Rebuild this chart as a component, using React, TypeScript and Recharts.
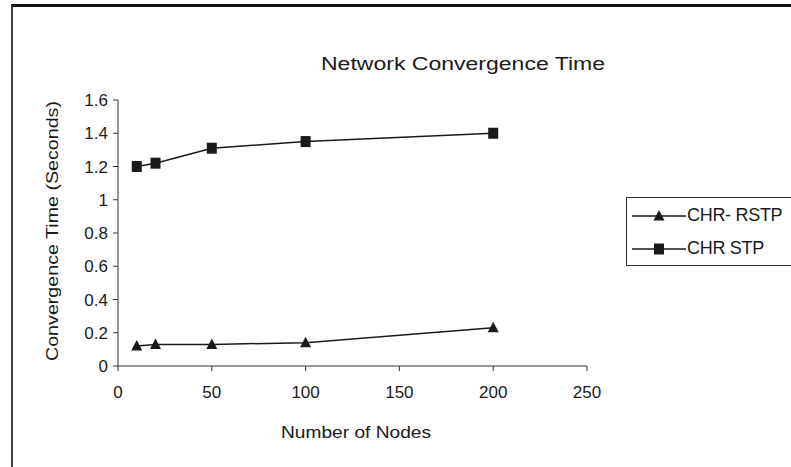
import { CartesianGrid, Customized, Legend, Line, LineChart, XAxis, YAxis } from "recharts";

const nodes = [10, 20, 50, 100, 200];
const rstp = [0.12, 0.13, 0.13, 0.14, 0.23];
const stp = [1.2, 1.22, 1.31, 1.35, 1.4];
const xTicks = [0, 50, 100, 150, 200, 250];
const yTicks = [0, 0.2, 0.4, 0.6, 0.8, 1, 1.2, 1.4, 1.6];
const seriesKeys = ["rstp", "stp"];
const seriesNames = ["CHR- RSTP", "CHR STP"];

const data = nodes.map((n, i) => ({ nodes: n, rstp: rstp[i], stp: stp[i] }));

const FONT = "'Liberation Sans', Arial, sans-serif";
const INK = "#1a1a1a";

function Triangle({ cx, cy }: any) {
  if (cx == null || cy == null) return null;
  return <polygon points={`${cx},${cy - 6} ${cx - 5.5},${cy + 4.5} ${cx + 5.5},${cy + 4.5}`} fill={INK} />;
}

function Square({ cx, cy }: any) {
  if (cx == null || cy == null) return null;
  return <rect x={cx - 5} y={cy - 5.5} width={10} height={11} fill={INK} />;
}

function Texts() {
  return (
    <g fontFamily={FONT} fill={INK}>
      <text x={321} y={70} fontSize={18} textLength={284} lengthAdjust="spacingAndGlyphs">
        Network Convergence Time
      </text>
      <text
        x={0}
        y={0}
        fontSize={17}
        textAnchor="middle"
        dominantBaseline="central"
        textLength={260}
        lengthAdjust="spacingAndGlyphs"
        transform="translate(52,231) rotate(-90)"
      >
        Convergence Time (Seconds)
      </text>
      <text
        x={356}
        y={432}
        fontSize={17}
        textAnchor="middle"
        dominantBaseline="central"
        textLength={150}
        lengthAdjust="spacingAndGlyphs"
      >
        Number of Nodes
      </text>
    </g>
  );
}

function LegendBox({ payload }: any) {
  const items = [...(payload || [])].sort(
    (a: any, b: any) => seriesKeys.indexOf(a.dataKey) - seriesKeys.indexOf(b.dataKey)
  );
  return (
    <div
      style={{
        border: "1.5px solid #333",
        width: 200,
        height: 69,
        boxSizing: "border-box",
        fontFamily: FONT,
        fontSize: 18,
        color: INK,
        paddingTop: 1,
      }}
    >
      {items.map((p: any) => (
        <div key={p.dataKey} style={{ display: "flex", alignItems: "center", height: 33 }}>
          <svg width={60} height={20} style={{ marginLeft: 5 }}>
            <line x1={0} y1={10} x2={54} y2={10} stroke={INK} strokeWidth={1.5} />
            {p.dataKey === "rstp" ? <Triangle cx={27} cy={10} /> : <Square cx={27} cy={10} />}
          </svg>
          <span style={{ whiteSpace: "nowrap", marginLeft: -5, letterSpacing: -0.3 }}>{p.value}</span>
        </div>
      ))}
    </div>
  );
}

export default function App() {
  return (
    <div style={{ position: "absolute", left: 0, top: 0, width: 791, height: 467, background: "#fff", overflow: "hidden" }}>
      <div
        style={{
          position: "absolute",
          left: 11,
          top: 4,
          width: 900,
          height: 600,
          borderTop: "3px solid #151515",
          borderLeft: "2px solid #444",
        }}
      />
      <LineChart width={791} height={467} data={data} margin={{ top: 100, right: 204, bottom: 71, left: 58 }}>
        <CartesianGrid stroke="none" />
        <XAxis
          dataKey="nodes"
          type="number"
          domain={[0, 250]}
          ticks={xTicks}
          interval={0}
          height={30}
          stroke="#333"
          tickSize={5}
          tickMargin={15}
          tick={{ fill: INK, fontSize: 17, fontFamily: FONT }}
        />
        <YAxis
          type="number"
          domain={[0, 1.6]}
          ticks={yTicks}
          interval={0}
          width={60}
          stroke="#333"
          tickSize={5}
          tickMargin={5}
          tick={{ fill: INK, fontSize: 17, fontFamily: FONT }}
          tickFormatter={(v: number) => String(Number(v.toFixed(1)))}
        />
        <Line
          dataKey="rstp"
          name={seriesNames[0]}
          stroke={INK}
          strokeWidth={1.5}
          dot={<Triangle />}
          activeDot={false}
          isAnimationActive={false}
        />
        <Line
          dataKey="stp"
          name={seriesNames[1]}
          stroke={INK}
          strokeWidth={1.5}
          dot={<Square />}
          activeDot={false}
          isAnimationActive={false}
        />
        <Legend
          layout="horizontal"
          align="center"
          verticalAlign="middle"
          content={<LegendBox />}
          wrapperStyle={{ position: "absolute", left: 626, top: 197, width: 200 }}
        />
        <Customized component={Texts} />
      </LineChart>
    </div>
  );
}
